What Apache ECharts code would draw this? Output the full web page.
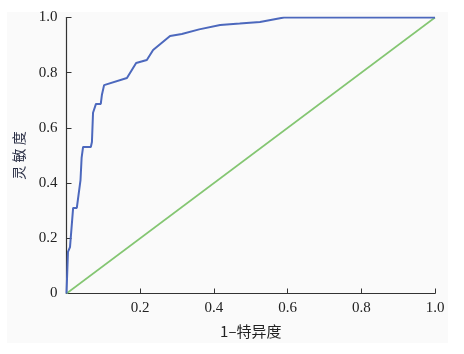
<!DOCTYPE html>
<html>
<head>
<meta charset="utf-8">
<script src="https://cdn.jsdelivr.net/npm/echarts@6/dist/echarts.min.js"></script>
<style>
  html, body { margin: 0; padding: 0; background: #fff; }
  #main { width: 464px; height: 354px; }
</style>
</head>
<body>
<div id="main"></div>
<script>
// ROC 曲线数据
var rocX = [0, 0.004, 0.0095, 0.018, 0.028, 0.038, 0.041, 0.045, 0.066, 0.069, 0.072, 0.080, 0.093, 0.096, 0.102, 0.164, 0.189, 0.218, 0.235, 0.281, 0.313, 0.36, 0.417, 0.47, 0.525, 0.59, 1.0];
var rocY = [0, 0.151, 0.168, 0.310, 0.310, 0.411, 0.491, 0.531, 0.531, 0.549, 0.655, 0.687, 0.687, 0.719, 0.755, 0.781, 0.835, 0.846, 0.882, 0.933, 0.940, 0.957, 0.973, 0.978, 0.984, 1.0, 1.0];
// 参考线
var refX = [0, 1];
var refY = [0, 1];
var xTicks = [0, 0.2, 0.4, 0.6, 0.8, 1.0];
var yTicks = [0, 0.2, 0.4, 0.6, 0.8, 1.0];

var xName = '1–特异度';
var yName = '灵敏度';

function pairs(xs, ys) {
    var out = [];
    for (var i = 0; i < xs.length; i++) out.push([xs[i], ys[i]]);
    return out;
}

var serif = '"Liberation Serif", "DejaVu Serif", serif';
var cjk = '"Noto Sans CJK SC", sans-serif';

var chart = echarts.init(document.getElementById('main'), null, {renderer: 'canvas'});
chart.setOption({
    backgroundColor: '#fff',
    animation: false,
    graphic: [{
        type: 'rect', z: -10, silent: true,
        shape: {x: 7, y: 12, width: 441, height: 331},
        style: {fill: '#fafafa'}
    }],
    grid: {left: 66.5, right: 29, top: 17.5, bottom: 60.5},
    xAxis: {
        type: 'value', min: xTicks[0], max: xTicks[xTicks.length - 1], interval: 0.2,
        name: xName, nameLocation: 'middle', nameGap: 30,
        nameTextStyle: {fontFamily: cjk, fontSize: 15, color: '#222'},
        axisLine: {lineStyle: {color: '#333', width: 1.2}},
        axisTick: {inside: true, length: 5, lineStyle: {color: '#333'}},
        splitLine: {show: false},
        axisLabel: {
            fontFamily: serif, fontSize: 15, color: '#222', margin: 7,
            formatter: function (v) { return v === 0 ? '' : v.toFixed(1); }
        }
    },
    yAxis: {
        type: 'value', min: yTicks[0], max: yTicks[yTicks.length - 1], interval: 0.2,
        name: yName.split('').join(' '), nameLocation: 'middle', nameGap: 41, nameRotate: 90,
        nameTextStyle: {fontFamily: cjk, fontSize: 14, color: '#2a2f45'},
        axisLine: {lineStyle: {color: '#333', width: 1.2}},
        axisTick: {inside: true, length: 5, lineStyle: {color: '#333'}},
        splitLine: {show: false},
        axisLabel: {
            fontFamily: serif, fontSize: 15, color: '#222', margin: 9,
            formatter: function (v) { return v === 0 ? '0' : v.toFixed(1); }
        }
    },
    series: [{
        type: 'line', data: pairs(refX, refY), showSymbol: false,
        lineStyle: {color: '#84c672', width: 1.6}, z: 2
    }, {
        type: 'line', data: pairs(rocX, rocY), showSymbol: false,
        lineStyle: {color: '#4c68bd', width: 2}, z: 3
    }]
});
</script>
</body>
</html>
